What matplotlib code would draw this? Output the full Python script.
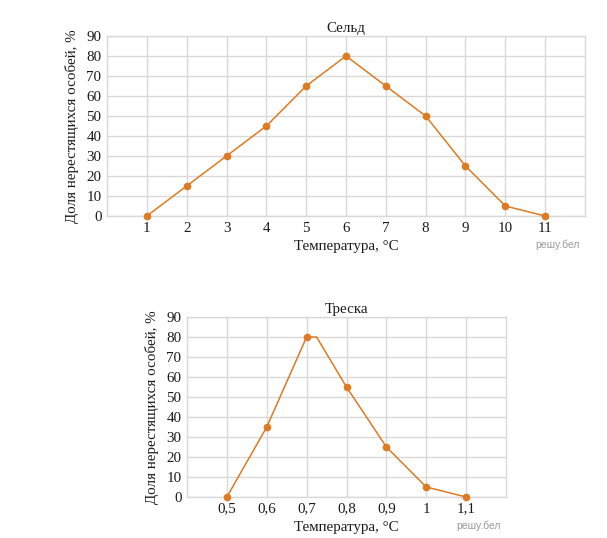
import matplotlib
matplotlib.use("Agg")
import matplotlib.pyplot as plt
from matplotlib.ticker import FixedLocator, FixedFormatter

plt.rcParams['font.family'] = ['Liberation Serif', 'DejaVu Serif']

# Data
herring_temp = [1, 2, 3, 4, 5, 6, 7, 8, 9, 10, 11]
herring_share = [0, 15, 30, 45, 65, 80, 65, 50, 25, 5, 0]
herring_ticks = [1, 2, 3, 4, 5, 6, 7, 8, 9, 10, 11]
herring_ticklabels = ['1', '2', '3', '4', '5', '6', '7', '8', '9', '10', '11']

cod_temp = [0.5, 0.6, 0.7, 0.725, 0.8, 0.9, 1.0, 1.1]
cod_share = [0, 35, 80, 80, 55, 25, 5, 0]
cod_marked = [0, 1, 2, 4, 5, 6, 7]
cod_ticks = [0.5, 0.6, 0.7, 0.8, 0.9, 1.0, 1.1]
cod_ticklabels = ['0,5', '0,6', '0,7', '0,8', '0,9', '1', '1,1']

y_ticks = [0, 10, 20, 30, 40, 50, 60, 70, 80, 90]

W, H = 607, 538
fig = plt.figure(figsize=(W / 100, H / 100), dpi=100)
fig.patch.set_facecolor('white')

LINE = '#dd7a22'
GRID = '#d9d9d9'
FS = 10.8

def make_axes(l, t, r, b):
    return fig.add_axes([l / W, 1 - b / H, (r - l) / W, (b - t) / H])

def style(ax, xlim, xticks, xlabels, title):
    ax.set_xlim(*xlim)
    ax.set_ylim(0, 90)
    ax.xaxis.set_major_locator(FixedLocator(xticks))
    ax.xaxis.set_major_formatter(FixedFormatter(xlabels))
    ax.set_yticks(y_ticks)
    ax.grid(True, color=GRID, linewidth=1.0)
    ax.set_axisbelow(True)
    for s in ax.spines.values():
        s.set_color(GRID)
        s.set_linewidth(1.0)
    ax.tick_params(length=0, labelsize=FS, colors='#1a1a1a', pad=4)
    ax.tick_params(axis='x', pad=4)
    ax.set_title(title, fontsize=FS, pad=3, color='#1a1a1a')
    ax.set_xlabel('Температура, °C', fontsize=FS, labelpad=4, color='#1a1a1a')
    ax.set_ylabel('Доля нерестящихся особей, %', fontsize=FS, labelpad=5, color='#1a1a1a')

ax1 = make_axes(107, 36, 585, 216)
style(ax1, (0, 12), herring_ticks, herring_ticklabels, 'Сельд')
ax1.plot(herring_temp, herring_share, color=LINE, linewidth=1.1, marker='o',
         markersize=4.5, clip_on=False, zorder=3)

ax2 = make_axes(187, 317, 506, 497)
style(ax2, (0.4, 1.2), cod_ticks, cod_ticklabels, 'Треска')
ax2.plot(cod_temp, cod_share, color=LINE, linewidth=1.1, marker='o',
         markersize=4.5, markevery=cod_marked, clip_on=False, zorder=3)

fig.text(557 / W, 1 - 245 / H, 'решу.бел', fontsize=7.5, color='#999999',
         family=['Liberation Sans', 'DejaVu Sans'], ha='center', va='center')
fig.text(478 / W, 1 - 526 / H, 'решу.бел', fontsize=7.5, color='#999999',
         family=['Liberation Sans', 'DejaVu Sans'], ha='center', va='center')

fig.savefig('out.png', dpi=100, facecolor='white')
